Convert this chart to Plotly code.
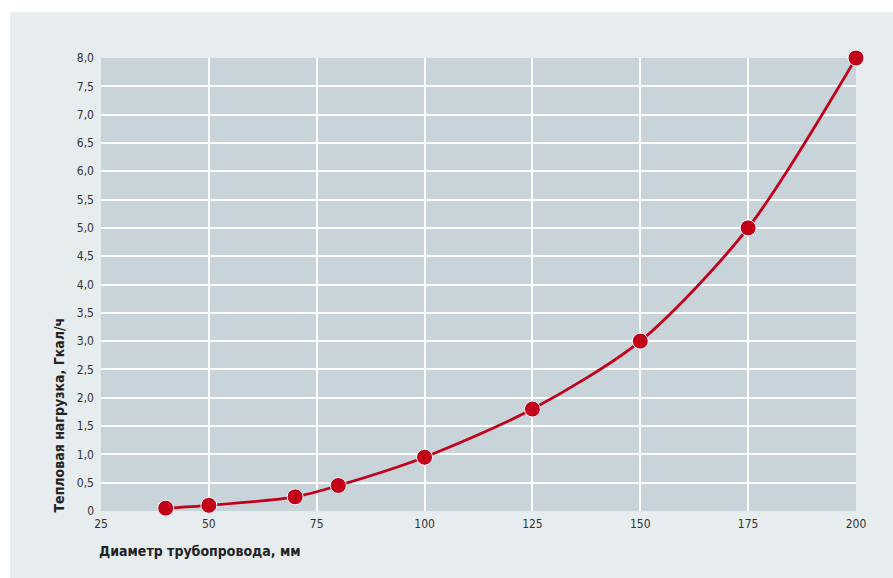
import plotly.graph_objects as go

# Pipe diameter (mm) vs heat load (Gcal/h)
diameters = [40, 50, 70, 80, 100, 125, 150, 175, 200]
heat_load = [0.05, 0.1, 0.25, 0.45, 0.95, 1.8, 3.0, 5.0, 8.0]

x_ticks = [25, 50, 75, 100, 125, 150, 175, 200]
y_ticks = [0, 0.5, 1.0, 1.5, 2.0, 2.5, 3.0, 3.5, 4.0, 4.5, 5.0, 5.5, 6.0, 6.5, 7.0, 7.5, 8.0]
y_tick_text = ["0"] + [f"{v:.1f}".replace(".", ",") for v in y_ticks[1:]]

FONT = "DejaVu Sans Condensed, Liberation Sans Narrow, Roboto, sans-serif"
RED = "#c3001a"
PANEL = "#e7ecef"

W, H = 893, 578
L, R, T, B = 101, 37, 58, 67
pw, ph = W - L - R, H - T - B

fig = go.Figure()
fig.add_trace(go.Scatter(
    x=diameters, y=heat_load,
    mode="lines+markers",
    line=dict(color=RED, width=2.8, shape="spline", smoothing=0.8),
    marker=dict(size=16, color=RED, line=dict(color="white", width=1)),
    cliponaxis=False,
    hoverinfo="x+y",
))

# white margin strips above and left of the grey panel
fig.add_shape(type="rect", xref="paper", yref="paper",
              x0=-L / pw, x1=(W - L) / pw, y0=(H - B - 12) / ph, y1=(H - B) / ph,
              line_width=0, fillcolor="white", layer="below")
fig.add_shape(type="rect", xref="paper", yref="paper",
              x0=-L / pw, x1=(10 - L) / pw, y0=-B / ph, y1=(H - B) / ph,
              line_width=0, fillcolor="white", layer="below")

fig.update_layout(
    width=W, height=H,
    margin=dict(l=L, r=R, t=T, b=B),
    paper_bgcolor=PANEL,
    plot_bgcolor="#c8d3da",
    showlegend=False,
    font=dict(family=FONT, size=12, color="#333333"),
)
fig.update_xaxes(
    range=[25, 200], tickvals=x_ticks, ticks="", showline=False,
    gridcolor="white", gridwidth=1.5, zeroline=False, ticklabelstandoff=4,
    tickfont=dict(family=FONT, size=12, color="#333333"),
)
fig.update_yaxes(
    range=[0, 8], tickvals=y_ticks, ticktext=y_tick_text, ticks="",
    gridcolor="white", gridwidth=1.5, zeroline=False, showline=False,
    ticklabelstandoff=6,
    tickfont=dict(family=FONT, size=12, color="#333333"),
)

fig.add_annotation(
    text="<b>Диаметр трубопровода, мм</b>", xref="paper", yref="paper",
    x=(97 - L) / pw, y=-(551 - (H - B)) / ph, xanchor="left", yanchor="middle",
    showarrow=False, font=dict(family=FONT, size=14, color="#222222"),
)
fig.add_annotation(
    text="<b>Тепловая нагрузка, Гкал/ч</b>", xref="paper", yref="paper",
    x=(58 - L) / pw, y=-(515 - (H - B)) / ph, xanchor="center", yanchor="bottom",
    textangle=-90, showarrow=False, font=dict(family=FONT, size=14, color="#222222"),
)

fig.write_html("out.html")
